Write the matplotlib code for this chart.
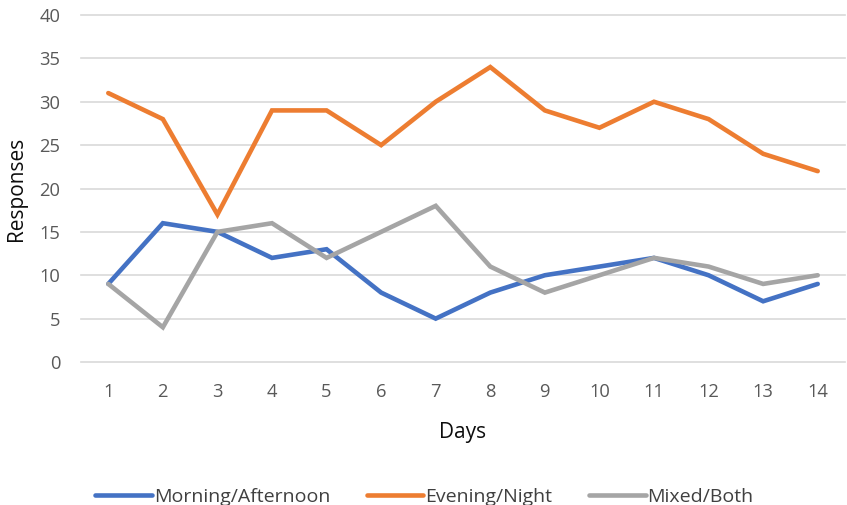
import matplotlib
matplotlib.use("Agg")
import matplotlib.pyplot as plt

plt.rcParams['font.family'] = ['Open Sans', 'DejaVu Sans']

days = list(range(1, 15))
morning_afternoon = [9, 16, 15, 12, 13, 8, 5, 8, 10, 11, 12, 10, 7, 9]
evening_night = [31, 28, 17, 29, 29, 25, 30, 34, 29, 27, 30, 28, 24, 22]
mixed_both = [9, 4, 15, 16, 12, 15, 18, 11, 8, 10, 12, 11, 9, 10]
series_names = ["Morning/Afternoon", "Evening/Night", "Mixed/Both"]
y_ticks = [0, 5, 10, 15, 20, 25, 30, 35, 40]

colors = ["#4472C4", "#ED7D31", "#A5A5A5"]

W, H = 847, 505
fig = plt.figure(figsize=(W / 100, H / 100), dpi=100)
ax = fig.add_axes([81 / W, 1 - 362 / H, (845 - 81) / W, (362 - 15) / H])

for vals, name, c in zip([morning_afternoon, evening_night, mixed_both], series_names, colors):
    ax.plot(days, vals, color=c, lw=3.3, label=name, solid_joinstyle='miter',
            solid_capstyle='round', clip_on=False, zorder=3)

ax.set_xlim(0.5, 14.5)
ax.set_ylim(0, 40)
ax.set_xticks(days)
ax.set_xticklabels([str(d) for d in days])
ax.set_yticks(y_ticks)
ax.grid(axis='y', color='#D9D9D9', lw=1.2)
for gl in ax.get_ygridlines():
    gl.set_clip_on(False)
ax.set_axisbelow(True)
for s in ax.spines.values():
    s.set_visible(False)
ax.tick_params(axis='both', length=0, labelsize=13.2, colors='#595959')
ax.tick_params(axis='y', pad=15)
ax.tick_params(axis='x', pad=15)

ax.set_xlabel("Days", fontsize=15, color='#0D0D0D', labelpad=15)
ax.set_ylabel("Responses", fontsize=15, color='#0D0D0D', labelpad=9)

fig.legend(loc='center', bbox_to_anchor=(424.5 / W, 1 - 497 / H), ncol=3,
           frameon=False, fontsize=14, handlelength=2.9, handletextpad=0.1,
           columnspacing=1.9, labelcolor='#404040')

fig.savefig("out.png", dpi=100)
